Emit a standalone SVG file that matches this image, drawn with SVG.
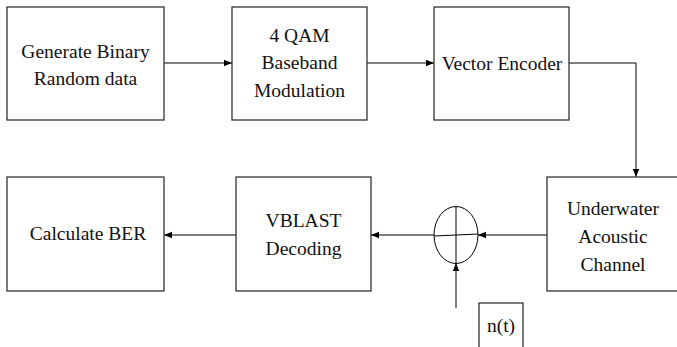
<svg xmlns="http://www.w3.org/2000/svg" width="677" height="347" viewBox="0 0 677 347">
<defs>
<marker id="ah" viewBox="0 0 8 8" refX="8" refY="4" markerWidth="8" markerHeight="8" markerUnits="userSpaceOnUse" orient="auto">
<path d="M0,0.8 L8,4 L0,7.2 Z" fill="#000"/>
</marker>
</defs>
<rect width="677" height="347" fill="#fff"/>
<g id="connectors" fill="none" stroke="#000" stroke-width="1">
<line x1="164" y1="63" x2="232" y2="63" marker-end="url(#ah)"/>
<line x1="367" y1="63" x2="434" y2="63" marker-end="url(#ah)"/>
<polyline points="569,63 636,63 636,177" marker-end="url(#ah)"/>
<line x1="547" y1="235" x2="478" y2="235" marker-end="url(#ah)"/>
<line x1="434" y1="235" x2="371" y2="235" marker-end="url(#ah)"/>
<line x1="236" y1="235" x2="164" y2="235" marker-end="url(#ah)"/>
<line x1="456" y1="308" x2="456" y2="263" marker-end="url(#ah)"/>
</g>
<g id="gen">
<rect x="7" y="7" width="157" height="113" fill="#fff" stroke="#333" stroke-width="1.3"/>
<text x="85.5" y="58" font-family="Liberation Serif" font-size="19.5" text-anchor="middle" fill="#111">Generate Binary</text>
<text x="85.5" y="85" font-family="Liberation Serif" font-size="19.5" text-anchor="middle" fill="#111">Random data</text>
</g>
<g id="qam">
<rect x="232" y="7" width="135" height="113" fill="#fff" stroke="#333" stroke-width="1.3"/>
<text x="299.5" y="42" font-family="Liberation Serif" font-size="19.5" text-anchor="middle" fill="#111">4 QAM</text>
<text x="299.5" y="69" font-family="Liberation Serif" font-size="19.5" text-anchor="middle" fill="#111">Baseband</text>
<text x="299.5" y="97" font-family="Liberation Serif" font-size="19.5" text-anchor="middle" fill="#111">Modulation</text>
</g>
<g id="enc">
<rect x="434" y="7" width="135" height="113" fill="#fff" stroke="#333" stroke-width="1.3"/>
<text x="502" y="70" font-family="Liberation Serif" font-size="19.5" text-anchor="middle" fill="#111">Vector Encoder</text>
</g>
<g id="channel">
<rect x="547" y="177" width="131" height="114" fill="#fff" stroke="#333" stroke-width="1.3"/>
<text x="613" y="215" font-family="Liberation Serif" font-size="19.5" text-anchor="middle" fill="#111">Underwater</text>
<text x="613" y="243" font-family="Liberation Serif" font-size="19.5" text-anchor="middle" fill="#111">Acoustic</text>
<text x="613" y="271" font-family="Liberation Serif" font-size="19.5" text-anchor="middle" fill="#111">Channel</text>
</g>
<g id="sum" fill="none" stroke="#000" stroke-width="1">
<ellipse cx="456" cy="235" rx="22" ry="28.5"/>
<line x1="456" y1="206.5" x2="456" y2="263.5"/>
<line x1="434" y1="236" x2="478" y2="234"/>
</g>
<g id="noise">
<rect x="479" y="303" width="44" height="50" fill="#fff" stroke="#333" stroke-width="1.3"/>
<text x="501" y="332" font-family="Liberation Serif" font-size="19.5" text-anchor="middle" fill="#111">n(t)</text>
</g>
<g id="vblast">
<rect x="236" y="177" width="135" height="114" fill="#fff" stroke="#333" stroke-width="1.3"/>
<text x="303.5" y="227" font-family="Liberation Serif" font-size="19.5" text-anchor="middle" fill="#111">VBLAST</text>
<text x="303.5" y="255" font-family="Liberation Serif" font-size="19.5" text-anchor="middle" fill="#111">Decoding</text>
</g>
<g id="ber">
<rect x="7" y="177" width="157" height="114" fill="#fff" stroke="#333" stroke-width="1.3"/>
<text x="88" y="240" font-family="Liberation Serif" font-size="19.5" text-anchor="middle" fill="#111">Calculate BER</text>
</g>
</svg>
